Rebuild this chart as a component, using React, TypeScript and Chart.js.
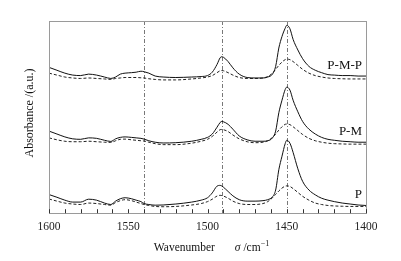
import { useEffect, useRef } from 'react';
import { Chart, registerables } from 'chart.js';

Chart.register(...registerables);

// Wavenumber grid (cm^-1), shared by every trace
const wavenumbers = [
  1600, 1595, 1590, 1585, 1580, 1575, 1570, 1565, 1561, 1558,
  1555, 1552, 1548, 1545, 1542, 1540, 1537, 1533, 1528, 1520,
  1510, 1504, 1500, 1497, 1494, 1492, 1491, 1490, 1487, 1484,
  1480, 1475, 1470, 1465, 1462, 1459, 1457, 1455, 1453, 1451,
  1450, 1448, 1446, 1443, 1440, 1436, 1432, 1428, 1424, 1420,
  1415, 1410, 1405, 1400,
];

// Absorbance (a.u., stacked) — P-M-P
const pmpSolid = [
  151, 148, 145, 143, 142.5, 144, 143, 141, 139.5, 141,
  144, 145, 145.5, 146, 147, 146.5, 145, 142, 141, 140.5,
  141, 141.5, 142.5, 146, 154, 161, 162, 161.5, 157, 150.5,
  144, 140.5, 140, 140, 141, 144, 152, 171, 183, 191.5,
  194.5, 191, 180, 169, 160, 152, 148, 145.5, 143.5, 143,
  142.5, 142.5, 142, 142,
];
const pmpDashed = [
  145, 143, 141, 140, 139.5, 140, 139.5, 139, 138.5, 139.5,
  140, 140.5, 140.5, 140.5, 140.2, 140, 139.2, 138.5, 138, 138,
  139, 140, 141, 142.5, 145.5, 147.5, 147.7, 147.5, 145.5, 143,
  140.5, 139.5, 139.5, 140, 141.5, 145, 149, 153, 156.5, 159,
  159.5, 159, 157, 153, 149, 145, 142.5, 141, 140, 139.5,
  139.2, 139, 139, 139,
];

// P-M
const pmSolid = [
  85, 82, 79, 77, 76.5, 78, 77.5, 75.5, 74.3, 77,
  78.5, 79, 78.5, 78, 77.5, 76.7, 75, 73.5, 72.7, 73,
  74.5, 76.5, 78.5, 82, 89, 94, 95, 94.7, 92, 87,
  80, 76, 74.5, 74.5, 75, 78, 85, 104, 117, 128,
  130.5, 127.5, 117, 105, 95, 87, 82, 78.5, 76.5, 75.5,
  74.5, 74, 73.5, 73.5,
];
const pmDashed = [
  78, 76, 74.5, 74, 74, 74.5, 74, 73.5, 73.3, 75,
  76.5, 76.7, 76, 75.5, 75, 74.7, 73.5, 72, 71, 71,
  72.5, 74.5, 76.5, 79.5, 84, 86.5, 86.7, 86.5, 84.5, 81,
  77, 74, 73, 73.5, 75, 78.5, 82, 86, 89.5, 92,
  92.3, 91.7, 89.5, 85.5, 81.5, 77.5, 75, 73.5, 72.5, 72,
  71.7, 71.5, 71.5, 71.5,
];

// P
const pSolid = [
  19.3, 16.5, 13.5, 11.5, 11.5, 14.5, 13.5, 10.5, 9, 12.5,
  15, 16, 15, 13.5, 12, 10, 9, 8.3, 8.5, 9.5,
  11.5, 13.5, 16, 21, 28, 28.8, 28.2, 27, 22.5, 18,
  14, 12.5, 12.5, 13, 14, 17, 24, 45, 59, 72,
  75.5, 72.5, 63, 46, 33, 24, 19, 15.5, 13.5, 12,
  10.5, 9.5, 8.5, 8,
];
const pDashed = [
  14.7, 12.5, 10.5, 9.5, 9, 10.5, 10, 9, 8.3, 11,
  13, 14, 13, 11.5, 10, 9, 8, 7, 6.7, 7,
  8.5, 10, 12, 14.5, 17.7, 18.5, 18.3, 17.8, 15.5, 12.5,
  10, 9, 9, 10, 12, 16, 19.5, 23, 26, 28,
  28.3, 27.7, 25.5, 21.5, 17.5, 13.5, 10.5, 9, 8, 7.5,
  7.2, 7, 7, 7,
];

const sampleNames = ['P-M-P', 'P-M', 'P'];
const markerWavenumbers = [1540, 1491, 1450];
const xTickLabels = [1600, 1550, 1500, 1450, 1400];
const yTitle = 'Absorbance /(a.u.)';
const xTitleWord = 'Wavenumber';
const xTitleSymbol = 'σ';
const xTitleUnit = ' /cm';
const xTitleExp = '−1';

const SERIF = '"Liberation Serif", "Times New Roman", Times, serif';

export default function App() {
  const ref = useRef<HTMLCanvasElement | null>(null);

  useEffect(() => {
    document.body.style.margin = '0';
    const canvas = ref.current;
    if (!canvas) return;

    const pts = (ys: number[]) => wavenumbers.map((x, i) => ({ x, y: ys[i] }));
    const solid = (ys: number[]) => ({
      data: pts(ys),
      borderColor: '#111',
      borderWidth: 1,
      pointRadius: 0,
      fill: false,
      cubicInterpolationMode: 'monotone' as const,
    });
    const dashed = (ys: number[]) => ({
      data: pts(ys),
      borderColor: '#222',
      borderWidth: 1,
      borderDash: [3, 2],
      pointRadius: 0,
      fill: false,
      cubicInterpolationMode: 'monotone' as const,
    });

    const solids = [pmpSolid, pmSolid, pSolid];

    const overlay = {
      id: 'overlay',
      beforeDatasetsDraw(chart: any) {
        const { ctx, chartArea } = chart;
        const xs = chart.scales.x;
        ctx.save();
        ctx.strokeStyle = '#555';
        ctx.lineWidth = 0.8;
        ctx.setLineDash([4, 2, 1, 2]);
        markerWavenumbers.forEach((w) => {
          const px = Math.round(xs.getPixelForValue(w)) + 0.5;
          ctx.beginPath();
          ctx.moveTo(px, chartArea.top);
          ctx.lineTo(px, chartArea.bottom);
          ctx.stroke();
        });
        ctx.restore();
      },
      afterDatasetsDraw(chart: any) {
        const { ctx, chartArea } = chart;
        const xs = chart.scales.x;
        const ys = chart.scales.y;
        ctx.save();
        // frame
        ctx.strokeStyle = '#9a9a9a';
        ctx.lineWidth = 1;
        ctx.setLineDash([]);
        ctx.strokeRect(
          Math.round(chartArea.left) + 0.5,
          Math.round(chartArea.top) + 0.5,
          Math.round(chartArea.right - chartArea.left),
          Math.round(chartArea.bottom - chartArea.top)
        );
        // inward ticks
        ctx.strokeStyle = '#333';
        xs.ticks.forEach((t: any) => {
          const px = Math.round(xs.getPixelForValue(t.value)) + 0.5;
          ctx.beginPath();
          ctx.moveTo(px, chartArea.bottom);
          ctx.lineTo(px, chartArea.bottom - 4);
          ctx.stroke();
        });
        // sample labels
        ctx.fillStyle = '#111';
        ctx.font = `13px ${SERIF}`;
        ctx.textAlign = 'right';
        ctx.textBaseline = 'middle';
        sampleNames.forEach((name, i) => {
          const arr = solids[i];
          const py = ys.getPixelForValue(arr[arr.length - 1]) - 10.5;
          ctx.fillText(name, chartArea.right - 4, py);
        });
        ctx.restore();
      },
      afterDraw(chart: any) {
        const { ctx, chartArea } = chart;
        ctx.save();
        ctx.fillStyle = '#111';
        // y title
        ctx.font = `12px ${SERIF}`;
        ctx.textAlign = 'center';
        ctx.textBaseline = 'middle';
        ctx.translate(30, 113);
        ctx.rotate(-Math.PI / 2);
        ctx.fillText(yTitle, 0, 0);
        ctx.setTransform(1, 0, 0, 1, 0, 0);
        // x title
        const base = 251;
        ctx.textAlign = 'left';
        ctx.textBaseline = 'alphabetic';
        const normal = `11.5px ${SERIF}`;
        const italic = `italic 11.5px ${SERIF}`;
        const small = `8px ${SERIF}`;
        ctx.font = normal;
        const w1 = ctx.measureText(xTitleWord).width;
        const gap = 20;
        ctx.font = italic;
        const w2 = ctx.measureText(xTitleSymbol).width;
        ctx.font = normal;
        const w3 = ctx.measureText(xTitleUnit).width;
        ctx.font = small;
        const w4 = ctx.measureText(xTitleExp).width;
        const total = w1 + gap + w2 + w3 + w4;
        let x = (chartArea.left + chartArea.right) / 2 + 4 - total / 2;
        ctx.font = normal;
        ctx.fillText(xTitleWord, x, base);
        x += w1 + gap;
        ctx.font = italic;
        ctx.fillText(xTitleSymbol, x, base);
        x += w2;
        ctx.font = normal;
        ctx.fillText(xTitleUnit, x, base);
        x += w3;
        ctx.font = small;
        ctx.fillText(xTitleExp, x, base - 5);
        ctx.restore();
      },
    };

    const chart = new Chart(canvas, {
      type: 'line',
      data: {
        datasets: [
          solid(pmpSolid), dashed(pmpDashed),
          solid(pmSolid), dashed(pmDashed),
          solid(pSolid), dashed(pDashed),
        ] as any,
      },
      options: {
        animation: false,
        responsive: false,
        events: [],
        layout: { padding: { left: 49, right: 35, top: 21, bottom: 20 } },
        plugins: { legend: { display: false }, tooltip: { enabled: false } },
        scales: {
          x: {
            type: 'linear',
            reverse: true,
            min: 1400,
            max: 1600,
            grid: { display: false, drawTicks: false },
            border: { display: false },
            ticks: {
              stepSize: 10,
              autoSkip: false,
              maxRotation: 0,
              padding: 7,
              color: '#222',
              font: { family: SERIF, size: 11.5 },
              callback: (v: any) => (xTickLabels.includes(Number(v)) ? String(v) : ''),
            },
          },
          y: { display: false, min: 0, max: 199 },
        },
      },
      plugins: [overlay],
    });

    return () => chart.destroy();
  }, []);

  return (
    <div style={{ width: 401, height: 261 }}>
      <canvas ref={ref} width={401} height={261} />
    </div>
  );
}
